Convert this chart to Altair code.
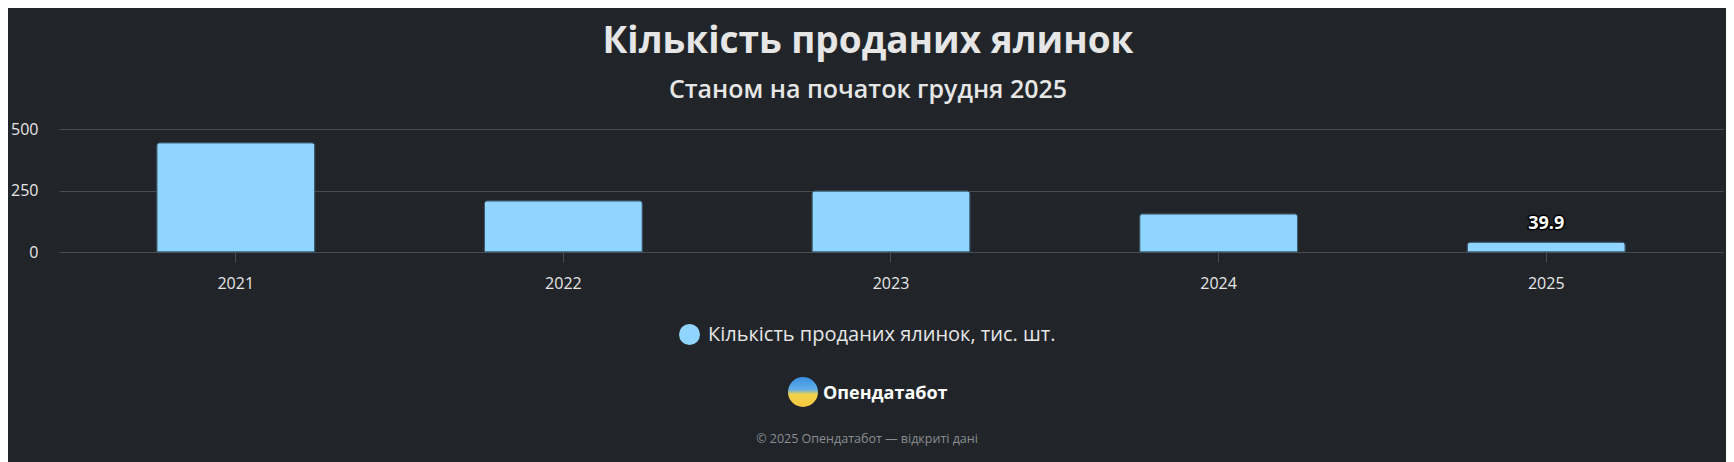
import altair as alt
import pandas as pd

# ---- data ----
years = ["2021", "2022", "2023", "2024", "2025"]
values = [444, 208, 248, 155, 39.9]
series_name = "Кількість проданих ялинок, тис. шт."
title_text = "Кількість проданих ялинок"
subtitle_text = "Станом на початок грудня 2025"
brand_text = "Опендатабот"
footer_text = "© 2025 Опендатабот — відкриті дані"
label_year = "2025"
y_ticks = [0, 250, 500]

FONT = "Segoe UI, Open Sans, Noto Sans, sans-serif"
BG = "#212529"
GRID = "#484b50"
TXT = "#e6e6e6"
BAR = "#8fd5ff"

df = pd.DataFrame({"year": years, "value": values, "series": series_name})

base = alt.Chart(df)

bars = base.mark_bar(
    cornerRadiusTopLeft=3, cornerRadiusTopRight=3,
    stroke="#3d5a6e", strokeWidth=1,
).encode(
    x=alt.X("year:O",
            scale=alt.Scale(paddingInner=0.518, paddingOuter=0.2985),
            axis=alt.Axis(title=None, labelAngle=0, domain=False,
                          ticks=True, tickSize=10, tickColor=GRID,
                          labelPadding=13, labelFontSize=16, labelColor=TXT,
                          labelFont=FONT, grid=False)),
    y=alt.Y("value:Q",
            scale=alt.Scale(domain=[0, 500], nice=False),
            axis=alt.Axis(title=None, values=y_ticks, domain=False, ticks=False,
                          grid=True, gridColor=GRID, gridWidth=1,
                          labelPadding=21, labelFontSize=16, labelColor=TXT,
                          labelFont=FONT)),
    color=alt.Color("series:N",
                    scale=alt.Scale(domain=[series_name], range=[BAR]),
                    legend=alt.Legend(orient="none", legendX=620, legendY=195,
                                      title=None, symbolType="circle",
                                      symbolSize=441, symbolStrokeWidth=0,
                                      symbolOpacity=1, labelFontSize=20,
                                      labelColor=TXT, labelFont=FONT,
                                      labelLimit=0, labelOffset=8, padding=0)),
)

lab = base.transform_filter(alt.datum.year == label_year)
label_outline = lab.mark_text(
    font=FONT, fontSize=18, fontWeight="bold", dy=-13, baseline="alphabetic",
    color="#000000", stroke="#000000", strokeWidth=3, strokeJoin="round",
).encode(x="year:O", y="value:Q", text=alt.Text("value:Q", format=".1f"))
label_text = lab.mark_text(
    font=FONT, fontSize=18, fontWeight="bold", dy=-13, baseline="alphabetic",
    color="#ffffff",
).encode(x="year:O", y="value:Q", text=alt.Text("value:Q", format=".1f"))


def deco(text, x, y, size, weight, color, align="center"):
    return alt.Chart(pd.DataFrame({"t": [text]})).mark_text(
        font=FONT, fontSize=size, fontWeight=weight, color=color,
        align=align, baseline="alphabetic",
    ).encode(x=alt.value(x), y=alt.value(y), text="t:N")


title = deco(title_text, 809, -76, 37, "bold", TXT)
subtitle = deco(subtitle_text, 809, -31, 25, 600, TXT)
brand = deco(brand_text, 764, 270, 18, "bold", "#ffffff", align="left")
footer = deco(footer_text, 808, 314, 12.5, "normal", "#8a8d91")

logo = alt.Chart(pd.DataFrame({"k": [0]})).mark_point(
    filled=True, shape="circle", size=900, opacity=1, strokeWidth=0,
    color=alt.Gradient(
        gradient="linear", x1=0, x2=0, y1=0, y2=1,
        stops=[alt.GradientStop(color="#3b8fe3", offset=0),
               alt.GradientStop(color="#62aee6", offset=0.42),
               alt.GradientStop(color="#f2d24c", offset=0.58),
               alt.GradientStop(color="#f5c63f", offset=1)]),
).encode(x=alt.value(744), y=alt.value(263))

chart = alt.layer(
    bars, label_outline, label_text, title, subtitle, logo, brand, footer
).properties(
    width=1664, height=123,
    autosize=alt.AutoSizeParams(type="none"),
    padding={"left": 51, "top": 121, "right": 3, "bottom": 210},
    background=BG,
).configure_view(stroke=None)

chart.save("out.html", embed_options={"renderer": "svg", "actions": False})
